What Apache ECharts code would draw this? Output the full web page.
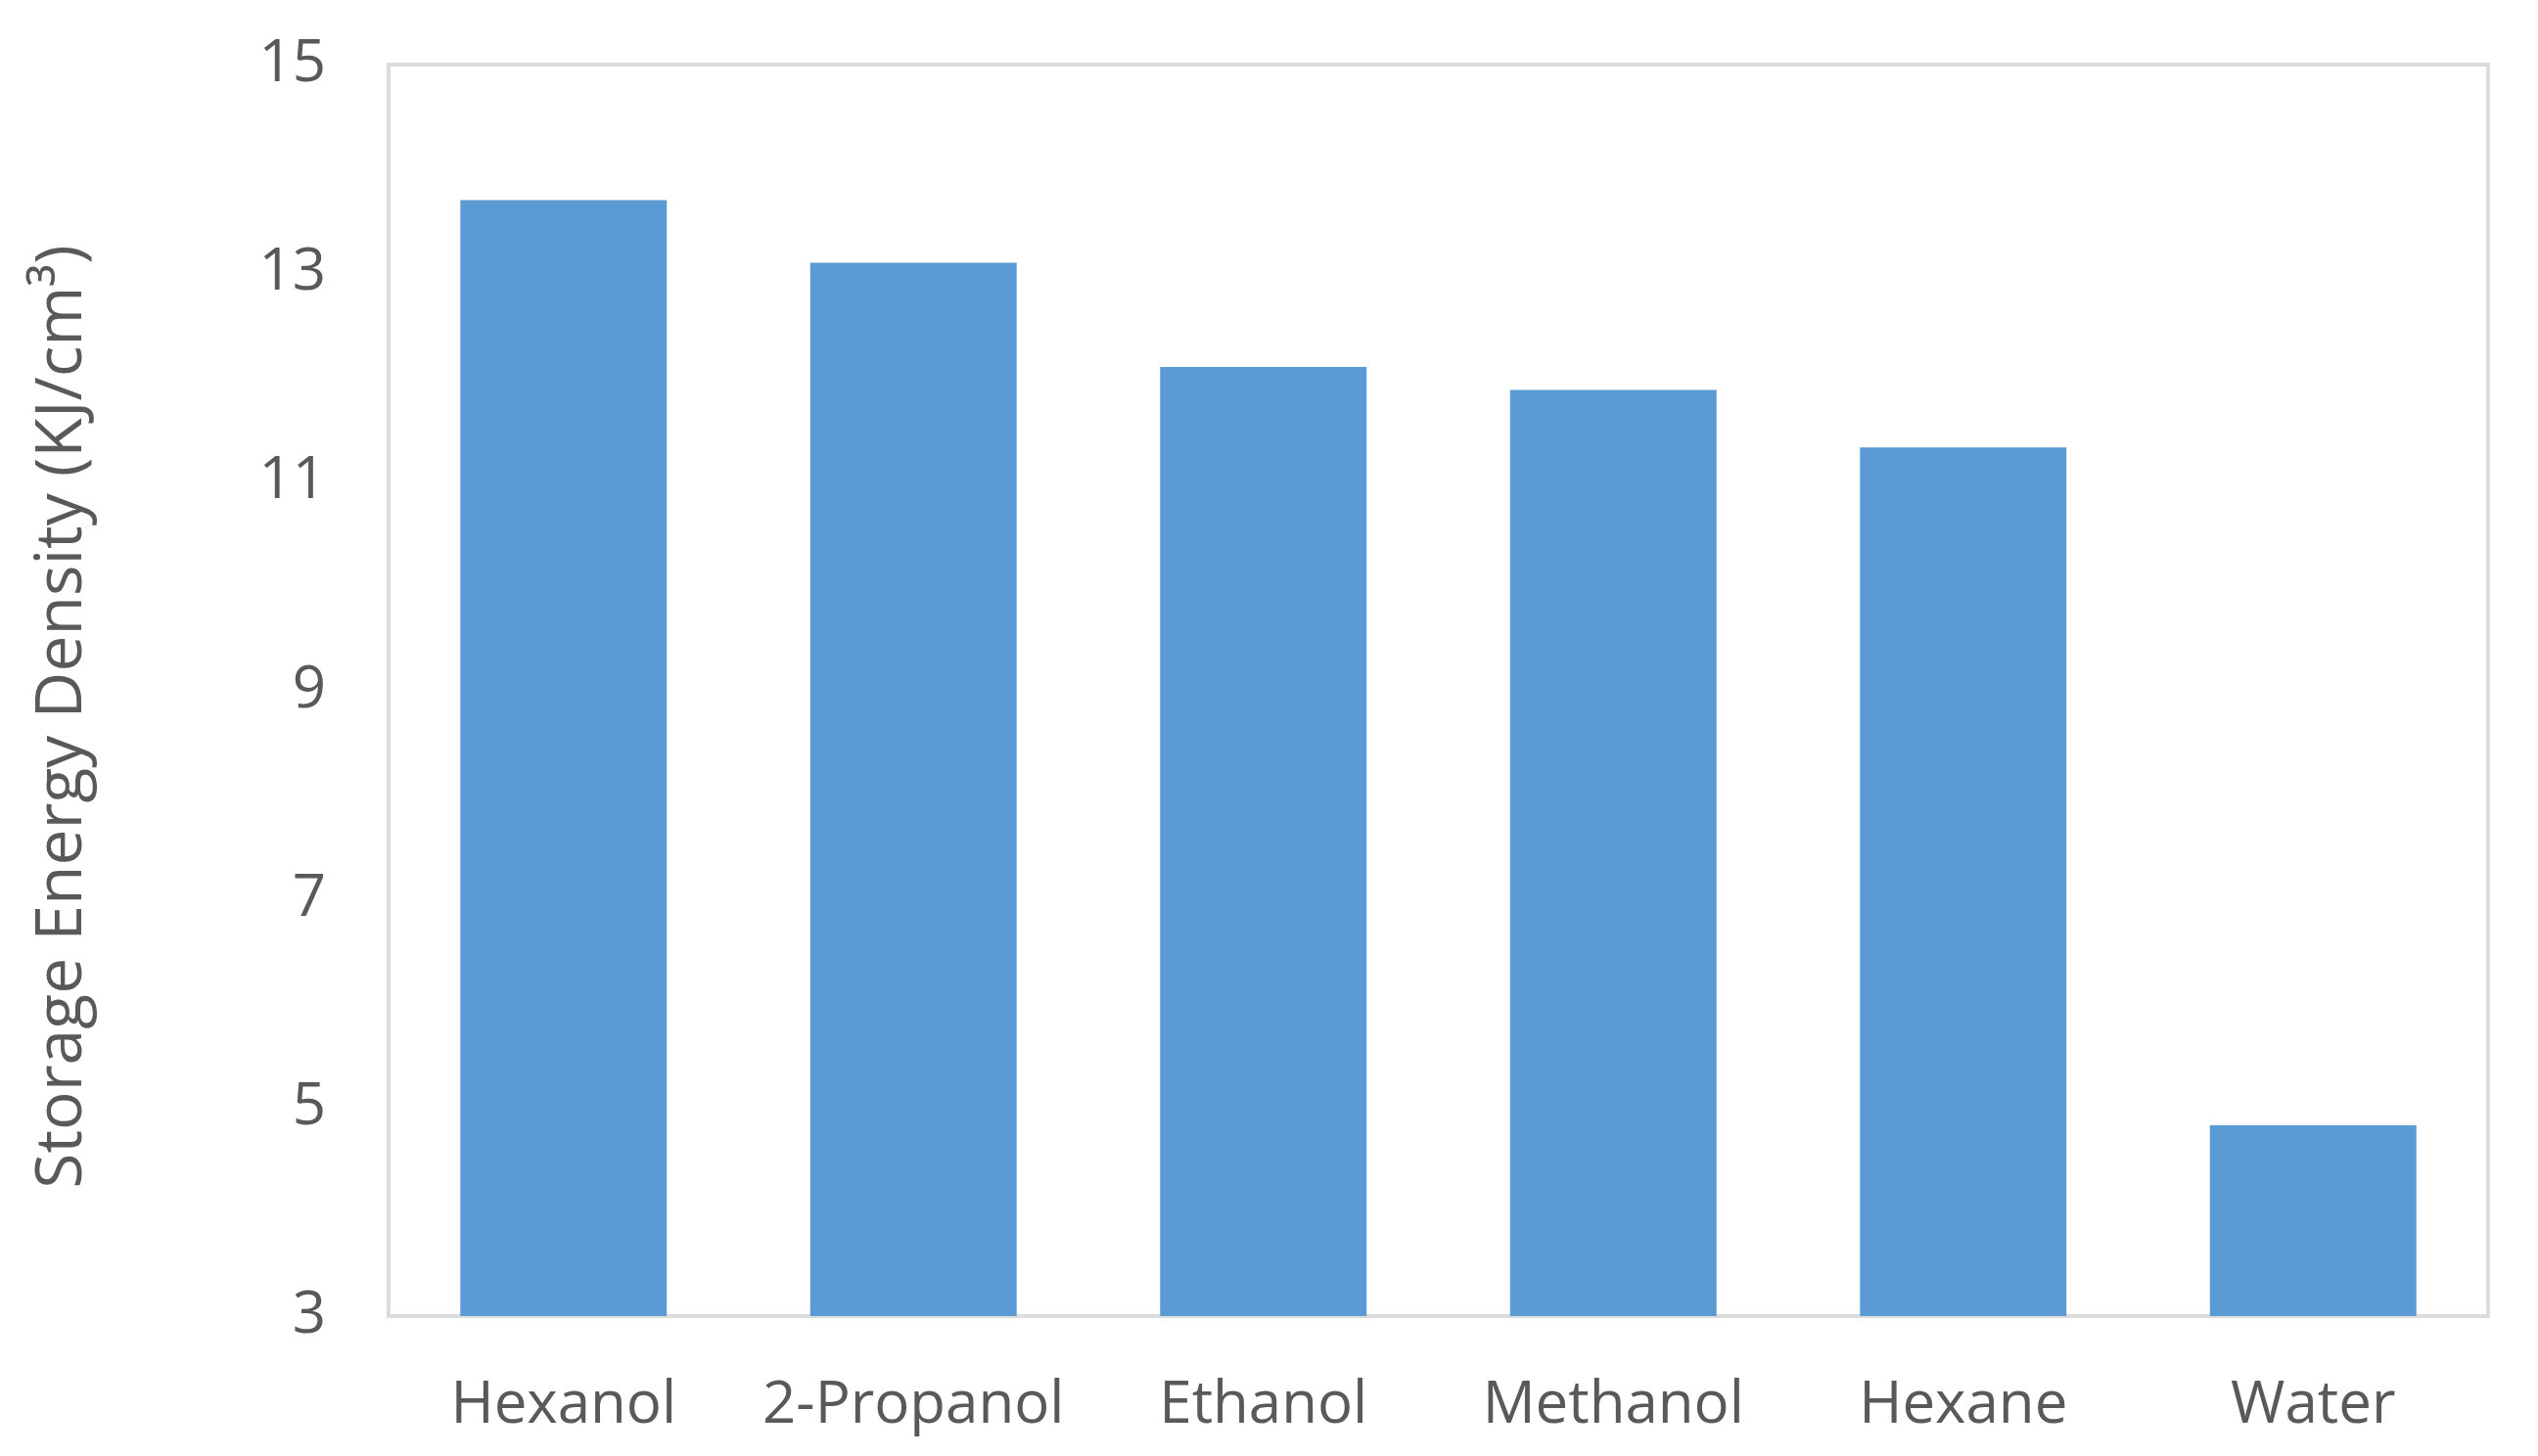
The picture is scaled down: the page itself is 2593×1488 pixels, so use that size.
<!DOCTYPE html>
<html>
<head>
<meta charset="utf-8">
<script src="https://cdn.jsdelivr.net/npm/echarts@6/dist/echarts.min.js"></script>
<style>html,body{margin:0;padding:0;background:#fff;}#chart{width:2593px;height:1488px;}</style>
</head>
<body>
<div id="chart"></div>
<script>
const categories = ['Hexanol', '2-Propanol', 'Ethanol', 'Methanol', 'Hexane', 'Water'];
const storageDensity = [13.70, 13.10, 12.10, 11.88, 11.33, 4.83];
const yTicks = [3, 5, 7, 9, 11, 13, 15];
const yTitle = 'Storage Energy Density (KJ/cm\u00B3)';

const chart = echarts.init(document.getElementById('chart'));
chart.setOption({
  animation: false,
  backgroundColor: '#ffffff',
  textStyle: { fontFamily: 'Open Sans' },
  grid: {
    left: 397, right: 51, top: 66, bottom: 143,
    show: true, borderColor: '#dcdcdc', borderWidth: 4, backgroundColor: 'transparent'
  },
  xAxis: {
    type: 'category',
    data: categories,
    axisLine: { show: true, lineStyle: { color: '#dcdcdc', width: 4 } },
    axisTick: { show: false },
    axisLabel: { color: '#595959', fontSize: 60, margin: 62, interval: 0, fontFamily: 'Open Sans' }
  },
  yAxis: {
    type: 'value',
    min: yTicks[0], max: yTicks[yTicks.length - 1], interval: 2,
    splitLine: { show: false },
    axisLine: { show: false },
    axisTick: { show: false },
    axisLabel: { color: '#595959', fontSize: 60, margin: 64, fontFamily: 'Open Sans' },
    name: yTitle,
    nameLocation: 'middle',
    nameGap: 300,
    nameTextStyle: { color: '#595959', fontSize: 66, fontFamily: 'Open Sans', padding: [0, 0, 0, -54] }
  },
  series: [{
    type: 'bar',
    data: storageDensity,
    barWidth: '59%',
    itemStyle: { color: '#5b9bd5' }
  }]
});
</script>
</body>
</html>
